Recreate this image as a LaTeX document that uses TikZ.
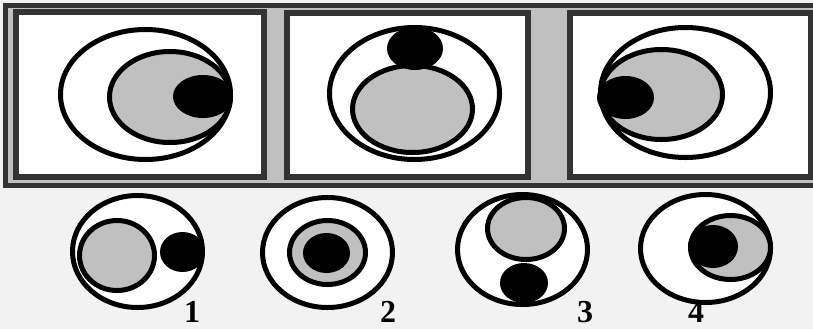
\documentclass[tikz,border=0pt]{standalone}
\usepackage{fontspec}
\setmainfont{Liberation Serif}
\definecolor{shade}{RGB}{192,192,192}
\definecolor{rim}{RGB}{51,51,51}
\definecolor{paper}{RGB}{242,242,242}

\begin{document}
\begin{tikzpicture}[x=0.75pt, y=-0.75pt,
  panel/.style={draw=rim, line width=4.5pt, fill=white},
  outer/.style={draw, line width=3.75pt, fill=white},
  mid/.style={draw, line width=3.75pt, fill=shade},
  core/.style={fill=black},
  num/.style={font=\fontsize{24}{24}\selectfont\bfseries, inner sep=0pt}]
  \useasboundingbox (0,0) rectangle (813,329);
  \clip (0,0) rectangle (813,329);
  \fill[paper] (0,0) rectangle (813,329);
  % question strip
  \draw[draw=rim, line width=3.75pt, fill=shade] (5.5,5.5) rectangle (825,185.5);
  \draw[panel] (16,12) rectangle (264,176.5);
  \draw[panel] (287,12.5) rectangle (527.5,177);
  \draw[panel] (570,13) rectangle (810.5,177);
  % panel 1
  \draw[outer] (145.5,94.5) ellipse [x radius=85, y radius=65];
  \draw[mid] (170,97) ellipse [x radius=60.5, y radius=45.5];
  \fill[core] (203,96.5) ellipse [x radius=30, y radius=21.5];
  % panel 2
  \draw[outer] (414.5,93.5) ellipse [x radius=85, y radius=66];
  \draw[mid] (412.5,109) ellipse [x radius=60, y radius=43.5];
  \fill[core] (415,48.5) ellipse [x radius=28, y radius=21.5];
  % panel 3
  \draw[outer] (685.5,92.5) ellipse [x radius=85, y radius=65];
  \draw[mid] (661.5,94.5) ellipse [x radius=61, y radius=45];
  \fill[core] (625.5,97.5) ellipse [x radius=28.5, y radius=21.5];
  % answers
  \draw[outer] (137.5,251.5) ellipse [x radius=65, y radius=56];
  \draw[mid] (117,255.5) ellipse [x radius=37.5, y radius=35];
  \fill[core] (182.5,252) ellipse [x radius=22.5, y radius=20];
  \node[num] (n1) at (192,312) {1};
  \draw[outer] (327.5,252.5) ellipse [x radius=65, y radius=55];
  \draw[mid] (327.5,252.5) ellipse [x radius=38, y radius=32];
  \fill[core] (326.5,253) ellipse [x radius=23.5, y radius=20];
  \node[num] (n2) at (388,312) {2};
  \draw[outer] (522.5,249.5) ellipse [x radius=65, y radius=55];
  \draw[mid] (526,228.5) ellipse [x radius=38.5, y radius=31];
  \fill[core] (524,283) ellipse [x radius=24, y radius=20];
  \node[num] (n3) at (585,312) {3};
  \draw[outer] (705.5,248.5) ellipse [x radius=65, y radius=54];
  \draw[mid] (730.5,247.5) ellipse [x radius=40, y radius=32];
  \fill[core] (713,246.5) ellipse [x radius=25, y radius=21.5];
  \node[num] (n4) at (696,312) {4};
\end{tikzpicture}
\end{document}
